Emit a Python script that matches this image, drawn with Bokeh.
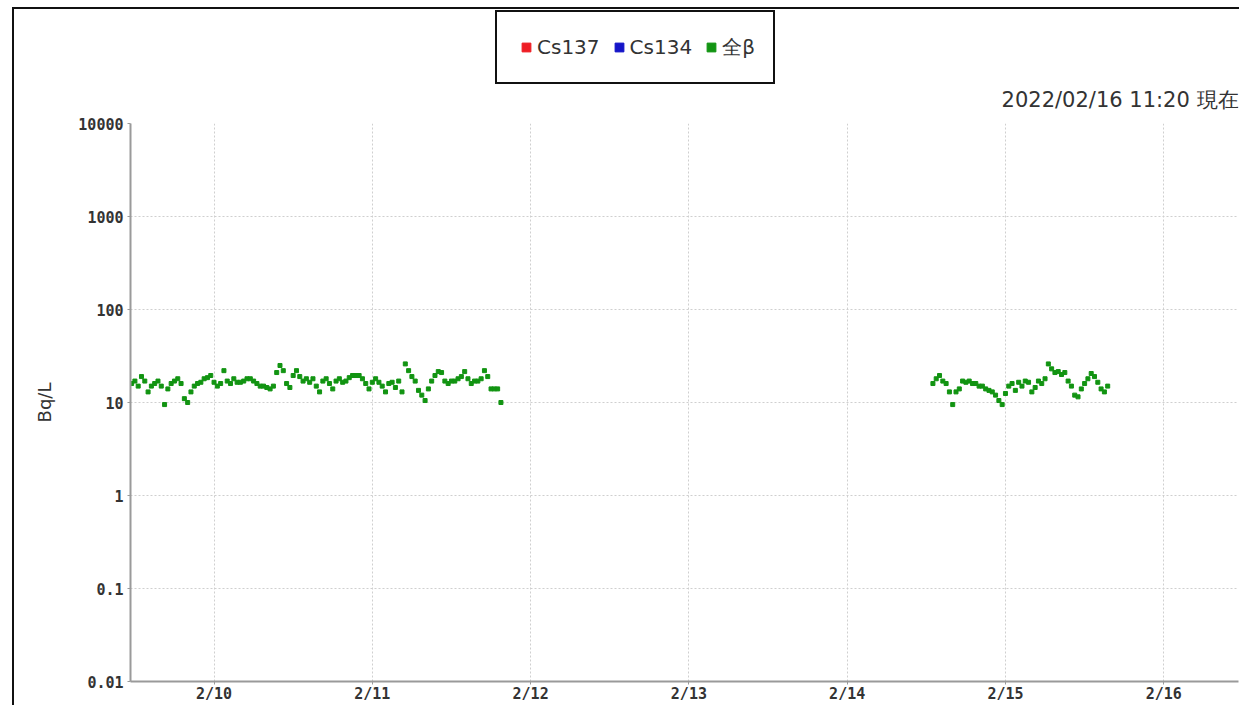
import math
import pandas as pd
from bokeh.plotting import figure
from bokeh.layouts import column
from bokeh.models import Legend, LegendItem, Label, FixedTicker, Range1d, ColumnDataSource
from bokeh.embed import file_html
from bokeh.resources import INLINE

# ---------------- data ----------------
series_names = ["Cs137", "Cs134", "全β"]
series_colors = ["#ee1c24", "#1414c8", "#129412"]

# 全β readings (Bq/L), every 30 minutes
beta_seg1_start = "2022-02-09 11:30"
beta_seg1_values = [
    16, 17, 15, 19, 17, 13, 15, 16, 17, 15,
    9.5, 14, 16, 17, 18, 16, 11, 10, 13, 15,
    16, 16.5, 18, 18.5, 19.5, 16.5, 15, 16, 22, 17,
    16, 18, 16.5, 16.5, 17, 18, 18, 17, 16, 15,
    15, 14.5, 14, 15, 21, 25, 22, 16, 14.5, 19.5,
    22, 19, 17, 18, 16.5, 18, 15, 13, 17, 18,
    16, 14, 17, 18, 16.5, 17, 18.5, 19.5, 19.5, 19.5,
    18, 16, 14, 16.5, 18, 16.5, 15, 13, 16, 16.5,
    14.5, 17, 13, 26, 22, 19, 17, 13.5, 12, 10.5,
    14, 17, 19.5, 21.5, 21, 17, 16, 17, 17, 18,
    19, 21.5, 18, 16, 17, 17, 18, 22, 19, 14,
    14, 14, 10,
]
beta_seg2_start = "2022-02-14 13:00"
beta_seg2_values = [
    16, 18, 19.5, 17, 16, 13, 9.5, 13, 14, 17,
    16.5, 17, 16, 16, 15, 15, 14, 13.5, 13, 12,
    10.5, 9.5, 12.5, 15, 16, 13.5, 16.5, 15, 17, 16.5,
    13, 14.5, 17, 16, 18, 26, 23, 21, 21.5, 20,
    21, 17, 15, 12, 11.5, 14, 16, 18, 20.5, 19,
    16.5, 14, 13, 15,
]
sample_interval = "30min"

x_start = "2022-02-09 11:20"
x_end = "2022-02-16 11:20"
x_tick_dates = ["2022-02-10", "2022-02-11", "2022-02-12", "2022-02-13",
                "2022-02-14", "2022-02-15", "2022-02-16"]
x_tick_labels = ["2/10", "2/11", "2/12", "2/13", "2/14", "2/15", "2/16"]

y_ticks = [0.01, 0.1, 1, 10, 100, 1000, 10000]
y_tick_labels = ["0.01", "0.1", "1", "10", "100", "1000", "10000"]

stamp_text = "2022/02/16 11:20 現在"
y_label = "Bq/L"

# ---------------- build ----------------
W = 1225
HEADER_H = 104
MAIN_H = 592


def to_ms(t):
    return float((pd.Timestamp(t) - pd.Timestamp("1970-01-01")) // pd.Timedelta("1ms"))


t1 = pd.date_range(beta_seg1_start, periods=len(beta_seg1_values), freq=sample_interval)
t2 = pd.date_range(beta_seg2_start, periods=len(beta_seg2_values), freq=sample_interval)
beta_src = ColumnDataSource(dict(t=list(t1) + list(t2),
                                 v=beta_seg1_values + beta_seg2_values))

# ---- header: legend + date stamp ----
header = figure(width=W, height=HEADER_H, x_range=Range1d(0, 1), y_range=Range1d(0, 1),
                output_backend="svg", toolbar_location=None, min_border=0)
header.axis.visible = False
header.grid.visible = False
header.outline_line_color = None
header.background_fill_color = "white"
header.border_fill_color = "white"

proxies = [header.scatter("x", "y", source=ColumnDataSource(dict(x=[0.0], y=[math.nan])),
                          marker="square", size=8, color=c) for c in series_colors]
legend = Legend(items=[LegendItem(label=n, renderers=[r]) for n, r in zip(series_names, proxies)],
                orientation="horizontal", location=(365, 29),
                padding=18, spacing=8, margin=0,
                glyph_width=22, glyph_height=34, label_height=34, label_standoff=0,
                border_line_color="#111111", border_line_width=2, border_line_alpha=1,
                background_fill_color="white", background_fill_alpha=1,
                label_text_font="DejaVu Sans", label_text_font_size="20px",
                label_text_color="#333333")
header.add_layout(legend)
header.add_layout(Label(x=1, y=14, x_units="data", y_units="screen", text=stamp_text,
                        text_align="right", text_baseline="middle",
                        text_font="DejaVu Sans", text_font_size="21px",
                        text_color="#333333"))

# ---- main chart ----
p = figure(width=W, height=MAIN_H, x_axis_type="datetime", y_axis_type="log",
           x_range=Range1d(pd.Timestamp(x_start), pd.Timestamp(x_end)),
           y_range=Range1d(0.01, 10000),
           output_backend="svg", toolbar_location=None,
           min_border_left=116, min_border_right=1, min_border_top=10, min_border_bottom=23)
p.outline_line_color = None
p.background_fill_color = "white"
p.border_fill_color = "white"

p.scatter("t", "v", source=beta_src, marker="square", size=4, color=series_colors[2])

p.xaxis.ticker = FixedTicker(ticks=[to_ms(d) for d in x_tick_dates])
p.xaxis.major_label_overrides = {to_ms(d): lab for d, lab in zip(x_tick_dates, x_tick_labels)}
p.yaxis.ticker = FixedTicker(ticks=y_ticks)
p.yaxis.major_label_overrides = {float(v): lab for v, lab in zip(y_ticks, y_tick_labels)}

for ax in (p.xaxis, p.yaxis):
    ax.axis_line_color = "#9a9a9a"
    ax.axis_line_width = 2
    ax.major_tick_line_color = "#9a9a9a"
    ax.major_tick_out = 3
    ax.major_tick_in = 0
    ax.minor_tick_line_color = None
    ax.major_label_text_font = "DejaVu Sans Mono"
    ax.major_label_text_font_style = "bold"
    ax.major_label_text_font_size = "15px"
    ax.major_label_text_color = "#333333"
    ax.major_label_standoff = 4
p.xaxis.major_label_standoff = 0

p.yaxis.axis_label = y_label
p.yaxis.axis_label_text_font = "DejaVu Sans"
p.yaxis.axis_label_text_font_style = "normal"
p.yaxis.axis_label_text_font_size = "18px"
p.yaxis.axis_label_text_color = "#333333"
p.yaxis.axis_label_standoff = 20

p.grid.grid_line_color = "#cfcfcf"
p.grid.grid_line_dash = "2 2"
p.grid.grid_line_width = 1

layout = column(header, p, spacing=0,
                styles={"border-left": "2px solid #111", "border-top": "2px solid #111",
                        "margin-left": "12px", "margin-top": "7px"})

open("out.html", "w").write(file_html(layout, INLINE))
